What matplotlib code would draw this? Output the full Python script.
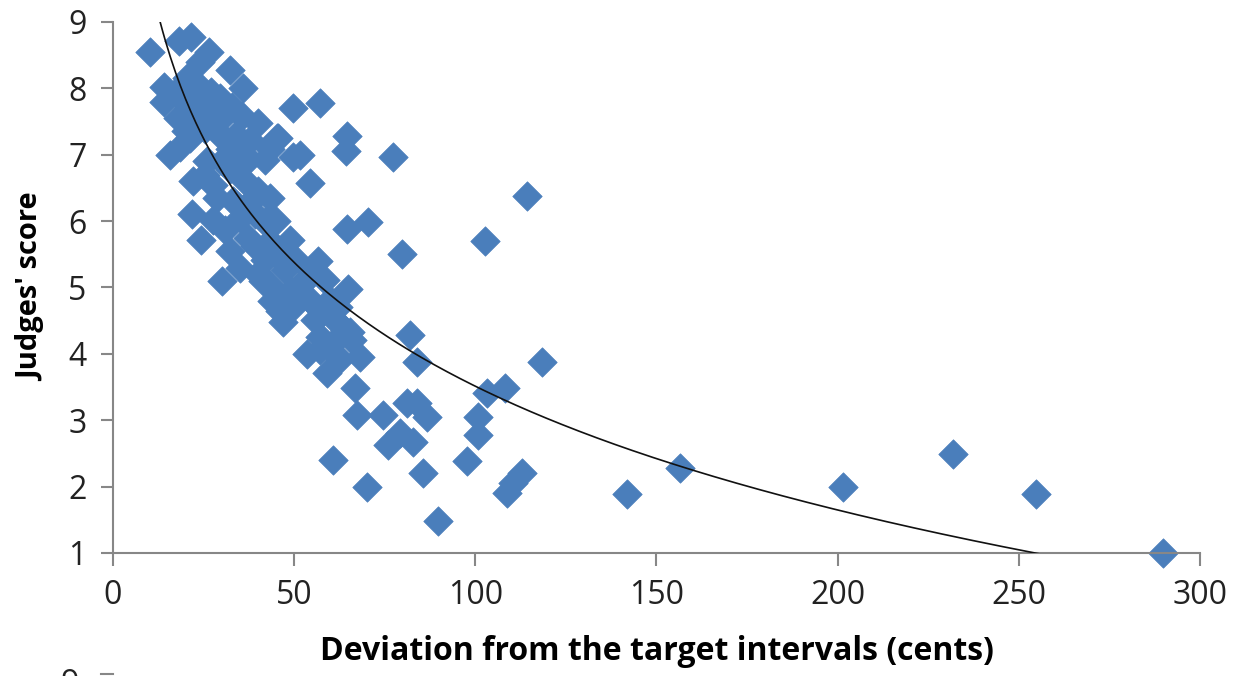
import numpy as np
import matplotlib
matplotlib.use('Agg')
import matplotlib.pyplot as plt

plt.rcParams['font.family'] = ['Open Sans', 'DejaVu Sans']

# deviation (cents) and judges' score for each performance
deviation = [
    10.2, 18.2, 21.6, 26.5, 32.3, 14.0, 14.0, 17.5, 20.5, 23.5, 27.0, 29.5, 32.8, 35.5, 40.0,
    17.9, 21.0, 23.5, 26.5, 30.0, 15.7, 18.5, 21.3, 25.4, 29.5, 32.3, 37.8, 43.3, 45.5, 51.6,
    41.9, 37.3, 49.7, 22.1, 25.4, 27.6, 32.3, 36.4, 40.0, 43.3, 28.7, 21.8, 27.6, 24.4, 30.9,
    32.3, 39.2, 41.9, 37.3, 39.2, 43.3, 48.9, 35.1, 30.1, 40.0, 41.4, 43.3, 41.9, 47.5, 51.6,
    54.4, 56.6, 58.5, 46.1, 50.2, 46.9, 46.1, 54.4, 57.1, 59.9, 55.8, 61.3, 64.0, 66.0, 53.5,
    57.1, 60.7, 62.7, 65.4, 68.2, 59.1, 57.1,
    19.0, 24.0, 28.0, 34.0, 36.0, 30.0, 26.0, 33.0, 35.0, 38.0, 45.0, 46.0, 50.0, 53.0,
    44.0, 49.0, 62.0, 36.0, 24.0, 20.0,
    49.6, 57.1, 45.3, 64.6, 64.3, 54.4, 77.3, 70.4, 64.6, 79.8, 64.9, 114.3, 102.7, 118.4,
    82.0, 83.9, 103.2, 108.2,
    66.8, 67.3, 74.5, 81.1, 83.9, 86.7, 75.9, 79.2, 82.8, 85.6, 70.1, 89.7, 97.7, 100.7,
    100.7, 112.9, 108.7, 110.5, 60.7,
    141.9, 156.5, 201.5, 231.8, 254.8, 289.8,
]
score = [
    8.55, 8.72, 8.78, 8.55, 8.28, 8.02, 7.80, 7.95, 8.15, 8.05, 7.95, 7.85, 7.72, 7.58, 7.48,
    7.55, 7.70, 7.50, 7.65, 7.55, 7.00, 7.12, 7.25, 7.38, 7.30, 7.08, 7.22, 7.08, 7.25, 7.00,
    6.92, 6.95, 6.96, 6.60, 6.70, 6.54, 6.78, 6.60, 6.45, 6.35, 6.35, 6.10, 6.02, 5.72, 5.86,
    5.55, 6.10, 5.98, 5.75, 5.62, 5.70, 5.72, 5.30, 5.10, 5.20, 5.10, 5.04, 5.42, 5.26, 5.04,
    5.26, 5.40, 5.11, 4.80, 4.73, 4.48, 4.64, 4.81, 4.66, 4.81, 4.51, 4.51, 4.36, 4.21, 4.00,
    4.25, 4.16, 3.92, 4.33, 3.95, 3.71, 4.06,
    7.85, 7.85, 7.40, 7.30, 6.85, 6.90, 6.90, 6.30, 6.05, 6.30, 6.00, 5.45, 5.45, 5.10,
    4.80, 4.95, 4.70, 8.00, 8.40, 7.35,
    7.70, 7.78, 7.25, 7.28, 7.05, 6.58, 6.97, 5.98, 5.88, 5.50, 4.98, 6.38, 5.70, 3.88,
    4.28, 3.88, 3.41, 3.48,
    3.48, 3.08, 3.08, 3.26, 3.26, 3.05, 2.63, 2.80, 2.67, 2.20, 1.99, 1.48, 2.38, 3.05,
    2.78, 2.20, 1.90, 2.05, 2.40,
    1.89, 2.28, 1.99, 2.49, 1.89, 1.00,
]

# logarithmic trendline: score = a - b * ln(deviation)
trend_a = 15.9
trend_b = 2.69

x_ticks = [0, 50, 100, 150, 200, 250, 300]
y_ticks = [1, 2, 3, 4, 5, 6, 7, 8, 9]

fig = plt.figure(figsize=(12.45, 6.76), dpi=100)
ax = fig.add_axes([0.0908, 0.182, 0.873, 0.7855])

ax.scatter(deviation, score, marker='D', s=15 ** 2, color='#4a7ebb',
           edgecolors='#4a7ebb', linewidths=0.5, zorder=2, clip_on=False)

xs = np.linspace(min(deviation), max(deviation), 400)
ax.plot(xs, trend_a - trend_b * np.log(xs), color='#111111', lw=1.2, zorder=3)

ax.set_xlim(0, 300)
ax.set_ylim(1, 9)
ax.set_xticks(x_ticks)
ax.set_yticks(y_ticks)

grey = '#878787'
for side in ['top', 'right']:
    ax.spines[side].set_visible(False)
for side in ['left', 'bottom']:
    ax.spines[side].set_color(grey)
    ax.spines[side].set_linewidth(1.5)
ax.tick_params(axis='both', direction='out', length=9, width=1.5, color=grey,
               labelsize=23, labelcolor='#222222', pad=10)

ax.set_xlabel('Deviation from the target intervals (cents)', fontsize=23,
              fontweight='bold', labelpad=16)
ax.set_ylabel("Judges' score", fontsize=21, fontweight='bold', labelpad=16)

# top of the next figure's axis peeking in at the bottom edge
fig.text(0.056, -0.012, '9', fontsize=23, color='#222222', ha='center', va='center')
fig.add_artist(plt.Line2D([0.081, 0.091], [0.003, 0.003], color=grey, lw=1.5))

fig.savefig('out.png', dpi=100)
